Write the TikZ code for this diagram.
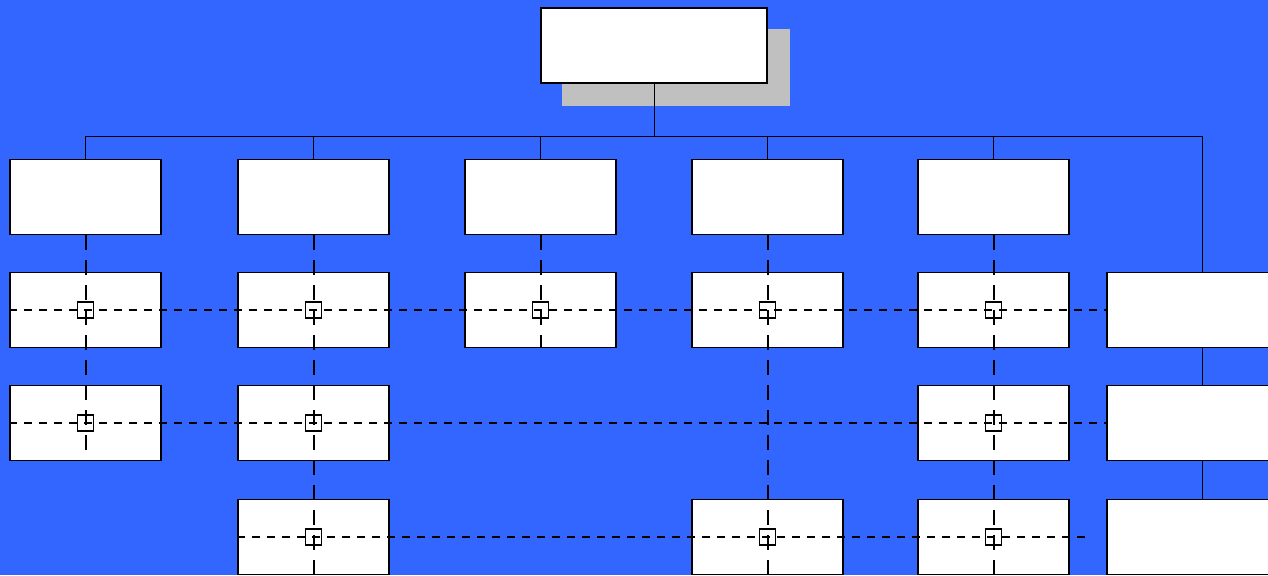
\documentclass[tikz,border=0pt]{standalone}
\usetikzlibrary{backgrounds}
\definecolor{bgblue}{HTML}{3366FF}
\definecolor{shadowgray}{HTML}{C0C0C0}

\begin{document}
\begin{tikzpicture}[x=0.5pt,y=-0.5pt,
        box/.style={draw, fill=white, line width=0.85pt, inner sep=0pt,
            minimum width=75.5pt, minimum height=37.5pt},
        wide/.style={box, minimum width=95pt},
        link/.style={line width=0.5pt},
        vdash/.style={line width=1pt, dash pattern=on 7.5pt off 5pt},
        hdash/.style={line width=0.9pt, dash pattern=on 4pt off 3.5pt},
        tag/.style={draw, line width=0.75pt, minimum size=8pt, inner sep=0pt}]
    \useasboundingbox (0,0) rectangle (1268,575);
    \clip (0,0) rectangle (1268,575);

    % draw the top box
    \node[box, minimum width=113pt] (top) at (654,45.5) {};

    % draw the rows of boxes
    \foreach \x/\col in {85.5/a,313.5/b,540.5/c,767.5/d,993.5/e}{
        \node[box] (\col1) at (\x,197) {};
        \node[box] (\col2) at (\x,310) {};
    }
    \foreach \x/\col in {85.5/a,313.5/b,993.5/e}
        \node[box] (\col3) at (\x,423) {};
    \foreach \x/\col in {313.5/b,767.5/d,993.5/e}
        \node[box] (\col4) at (\x,537) {};
    % the right column runs off the page
    \foreach \r/\y in {2/310,3/423,4/537}
        \node[wide] (r\r) at (1202,\y) {};

    % draw the tree links
    \coordinate (bus) at (654,136);
    \draw[link] (top.south) -- (bus);
    \draw[link] (a1.north) |- (bus) -| (r2.north);
    \foreach \col in {b,c,d,e}
        \draw[link] (\col1.north) -- (\col1.north |- bus);
    \draw[link] (r2.south) -- (r3.north);
    \draw[link] (r3.south) -- (r4.north);

    % draw the dashed cross links
    \draw[vdash] (a1.south) -- (a3.south);
    \draw[vdash] (b1.south) -- (b4.south);
    \draw[vdash] (c1.south) -- (c2.south);
    \draw[vdash] (d1.south) -- (d4.south);
    \draw[vdash] (e1.south) -- (e4.south);
    \draw[hdash] (a2.west) -- (r2.west);
    \draw[hdash] (a3.west) -- (r3.west);
    \coordinate (end) at (1090,537);
    \draw[hdash] (b4.west) -- (end);

    % the small marks where the links cross
    \foreach \n in {a2,b2,c2,d2,e2,a3,b3,e3,b4,d4,e4}
        \node[tag] (t\n) at (\n) {};

    % background and shadow of the top box
    \begin{scope}[on background layer]
        \fill[bgblue] (0,0) rectangle (1268,575);
        \fill[shadowgray] ([shift={(22,22)}]top.south west)
            rectangle ([shift={(22,22)}]top.north east);
    \end{scope}
\end{tikzpicture}
\end{document}
